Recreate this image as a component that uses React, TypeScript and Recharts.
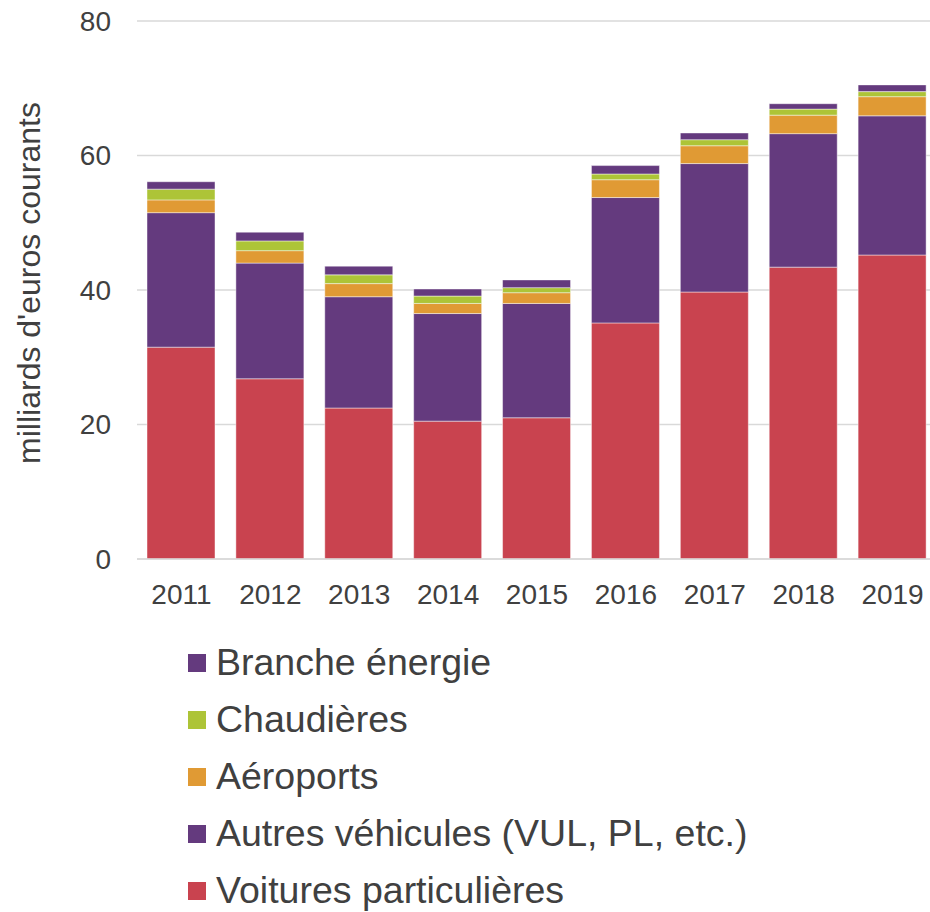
import React from "react";
import { BarChart, Bar, XAxis, YAxis, CartesianGrid, Legend } from "recharts";

const years = ["2011", "2012", "2013", "2014", "2015", "2016", "2017", "2018", "2019"];
const voitures = [31.5, 26.8, 22.45, 20.5, 21.0, 35.1, 39.7, 43.4, 45.2];
const autres = [20.0, 17.2, 16.55, 16.0, 17.0, 18.65, 19.1, 19.85, 20.7];
const aeroports = [1.9, 1.85, 1.95, 1.5, 1.6, 2.65, 2.65, 2.75, 2.85];
const chaudieres = [1.6, 1.45, 1.3, 1.1, 0.75, 0.85, 0.9, 0.9, 0.75];
const branche = [1.1, 1.3, 1.3, 1.05, 1.15, 1.25, 1.0, 0.8, 1.0];
const yTicks = [0, 20, 40, 60, 80];

const seriesNames = {
  voitures: "Voitures particulières",
  autres: "Autres véhicules (VUL, PL, etc.)",
  aeroports: "Aéroports",
  chaudieres: "Chaudières",
  branche: "Branche énergie",
};
const legendOrder = ["branche", "chaudieres", "aeroports", "autres", "voitures"];

const data = years.map((y, i) => ({
  year: y,
  voitures: voitures[i],
  autres: autres[i],
  aeroports: aeroports[i],
  chaudieres: chaudieres[i],
  branche: branche[i],
}));

const FONT = "'Liberation Sans', Arial, sans-serif";
const TEXT = "#404040";

const renderLegend = (props: any) => {
  const items = [...(props.payload || [])].sort(
    (a: any, b: any) => legendOrder.indexOf(a.dataKey) - legendOrder.indexOf(b.dataKey)
  );
  return (
    <div style={{ fontFamily: FONT, color: TEXT, fontSize: 37.5, height: 285 }}>
      {items.map((it: any) => (
        <div key={it.dataKey} style={{ height: 57, display: "flex", alignItems: "center" }}>
          <span style={{ display: "inline-block", width: 18, height: 18, background: it.color, marginRight: 10 }} />
          <span style={{ lineHeight: "57px", whiteSpace: "nowrap" }}>{it.value}</span>
        </div>
      ))}
    </div>
  );
};

const YLabel = (props: any) => {
  const vb = props.viewBox || {};
  const x = vb.x + 29;
  const y = vb.y + vb.height / 2 - 7;
  return (
    <text x={x} y={y} transform={`rotate(-90, ${x}, ${y})`} textAnchor="middle" dominantBaseline="central"
      fill={TEXT} fontSize={32} fontFamily={FONT}>
      milliards d'euros courants
    </text>
  );
};

export default function App() {
  const stroke = "rgba(255,255,255,0.45)";
  return (
    <div style={{ position: "absolute", left: 0, top: 0, width: 930, height: 912, overflow: "hidden", background: "#fff" }}>
      <BarChart width={937} height={912} data={data} margin={{ top: 21, right: 0, left: 0, bottom: 0 }} barSize={68}>
        <CartesianGrid vertical={false} stroke="#d9d9d9" strokeWidth={1.5} />
        <XAxis dataKey="year" height={68} tickSize={0} tickMargin={25} axisLine={{ stroke: "#d9d9d9", strokeWidth: 1.5 }}
          tick={{ fill: TEXT, fontSize: 28, fontFamily: FONT }} />
        <YAxis width={137} domain={[0, 80]} ticks={yTicks} tickSize={0} tickMargin={26} axisLine={false}
          tick={{ fill: TEXT, fontSize: 28, fontFamily: FONT }} label={<YLabel />} />
        <Legend layout="vertical" verticalAlign="bottom" align="center" content={renderLegend} itemSorter={null as any}
          wrapperStyle={{ left: 188, top: 634, bottom: "auto", width: "auto" }} />
        <Bar dataKey="voitures" name={seriesNames.voitures} stackId="a" fill="#C9434F" stroke={stroke} isAnimationActive={false} />
        <Bar dataKey="autres" name={seriesNames.autres} stackId="a" fill="#643A7E" stroke={stroke} isAnimationActive={false} />
        <Bar dataKey="aeroports" name={seriesNames.aeroports} stackId="a" fill="#E09A34" stroke={stroke} isAnimationActive={false} />
        <Bar dataKey="chaudieres" name={seriesNames.chaudieres} stackId="a" fill="#ADC437" stroke={stroke} isAnimationActive={false} />
        <Bar dataKey="branche" name={seriesNames.branche} stackId="a" fill="#643A7E" stroke={stroke} isAnimationActive={false} />
      </BarChart>
    </div>
  );
}
